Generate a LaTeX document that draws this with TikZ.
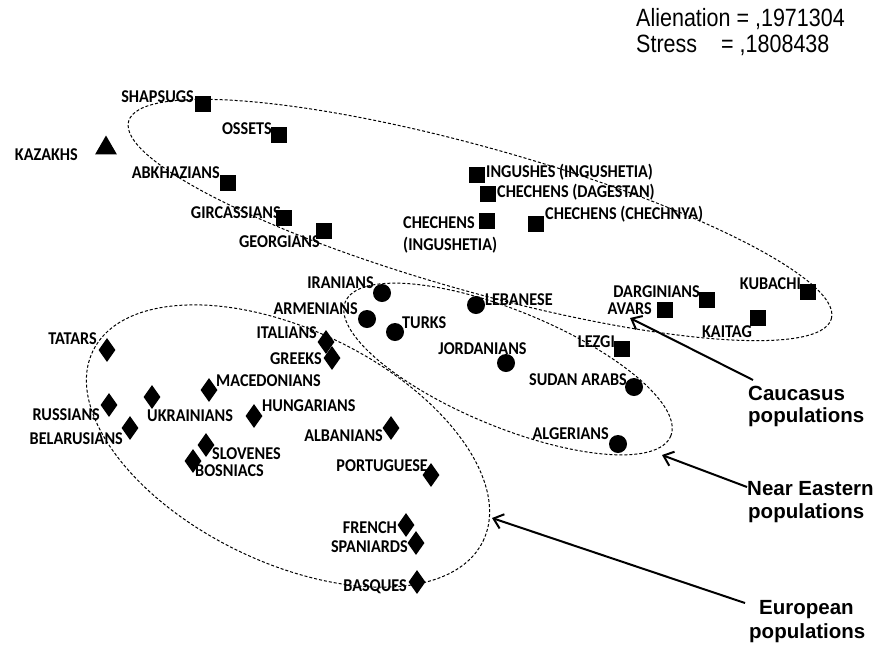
\documentclass[tikz,border=0pt]{standalone}
\usepackage{fontspec}
\setmainfont{Liberation Sans}
\newfontfamily\labfont[FakeStretch=0.9]{Carlito}
\newfontfamily\statfont[FakeStretch=0.86]{Liberation Sans}
\usetikzlibrary{shapes.geometric,arrows.meta}
\begin{document}
\begin{tikzpicture}[x=1pt,y=1pt,
  sqm/.style={rectangle, fill=black, minimum size=16pt, inner sep=0pt},
  cim/.style={circle, fill=black, minimum size=18pt, inner sep=0pt},
  dmm/.style={diamond, fill=black, minimum width=17pt, minimum height=24pt, inner sep=0pt},
  trm/.style={regular polygon, regular polygon sides=3, fill=black, minimum size=25pt, inner sep=0pt},
  lab/.style={font=\labfont\bfseries\fontsize{18}{22}\selectfont, inner sep=0pt, text height=11.6pt, text depth=0pt},
  lab2/.style={font=\labfont\bfseries\fontsize{18}{22}\selectfont, inner sep=0pt, align=left},
  big/.style={font=\bfseries\fontsize{20.5}{23}\selectfont, inner sep=0pt},
  stat/.style={font=\statfont\fontsize{25}{26}\selectfont, inner sep=0pt},
  ell/.style={draw=black, dash pattern=on 3pt off 2pt, line width=1pt},
  arr/.style={line width=2pt, -{Straight Barb[length=9pt,width=15pt]}}
]
\useasboundingbox (0,0) rectangle (880,-646);

% dashed ellipses
\draw[ell] (480,-220) ellipse [x radius=365, y radius=72, rotate=-15.7];
\draw[ell] (508,-369) ellipse [x radius=176, y radius=58, rotate=-22.4];
\draw[ell] (288,-446) ellipse [x radius=217, y radius=116, rotate=-26];

% statistics
\node[stat, anchor=base west] (alien) at (636,-26.5) {Alienation = ,1971304};
\node[stat, anchor=base west] (stress) at (636,-52) {Stress};
\node[stat, anchor=base west] (stressv) at (721,-52) {= ,1808438};

% Caucasus (squares) and Kazakhs
\node[trm] (kaz) at (106,-148) {};
\node[lab, anchor=east] (lkaz) at (78,-155) {KAZAKHS};
\node[sqm] (shap) at (203,-104) {};
\node[lab, anchor=east] (lshap) at (194,-97) {SHAPSUGS};
\node[sqm] (oss) at (279,-135) {};
\node[lab, anchor=east] (loss) at (272,-129) {OSSETS};
\node[sqm] (abk) at (228,-183) {};
\node[lab, anchor=east] (labk) at (220,-173) {ABKHAZIANS};
\node[sqm] (gir) at (284,-218) {};
\node[lab, anchor=east] (lgir) at (281,-213) {GIRCASSIANS};
\node[sqm] (geo) at (324,-231) {};
\node[lab, anchor=east] (lgeo) at (320,-242) {GEORGIANS};
\node[sqm] (ing) at (477,-175) {};
\node[lab, anchor=west] (ling) at (486,-172) {INGUSHES (INGUSHETIA)};
\node[sqm] (chd) at (488,-194) {};
\node[lab, anchor=west] (lchd) at (497,-192) {CHECHENS (DAGESTAN)};
\node[sqm] (chi) at (487,-221) {};
\node[lab2, anchor=north west] (lchi) at (403,-216) {CHECHENS\\(INGUSHETIA)};
\node[sqm] (chc) at (536,-224) {};
\node[lab, anchor=west] (lchc) at (545,-214) {CHECHENS (CHECHNYA)};
\node[sqm] (dar) at (707,-300) {};
\node[lab, anchor=east] (ldar) at (700,-292) {DARGINIANS};
\node[sqm] (ava) at (665,-310) {};
\node[lab, anchor=east] (lava) at (652,-309) {AVARS};
\node[sqm] (kub) at (808,-292) {};
\node[lab, anchor=east] (lkub) at (801,-284) {KUBACHI};
\node[sqm] (kai) at (758,-318) {};
\node[lab, anchor=east] (lkai) at (752,-332) {KAITAG};
\node[sqm] (lez) at (622,-349) {};
\node[lab, anchor=east] (llez) at (615,-342) {LEZGI};

% Near Eastern (circles)
\node[cim] (ira) at (382,-293) {};
\node[lab, anchor=east] (lira) at (374,-283) {IRANIANS};
\node[cim] (arm) at (367,-319) {};
\node[lab, anchor=east] (larm) at (358,-309) {ARMENIANS};
\node[cim] (tur) at (395,-332) {};
\node[lab, anchor=west] (ltur) at (402,-323) {TURKS};
\node[cim] (leb) at (476,-305) {};
\node[lab, anchor=west] (lleb) at (485,-300) {LEBANESE};
\node[cim] (jor) at (506,-363) {};
\node[lab] (ljor) at (482.5,-349) {JORDANIANS};
\node[cim] (sud) at (634,-387) {};
\node[lab, anchor=east] (lsud) at (627,-380) {SUDAN\ ARABS};
\node[cim] (alg) at (618,-444) {};
\node[lab, anchor=east] (lalg) at (609,-434) {ALGERIANS};

% European (diamonds)
\node[dmm] (tat) at (107,-350) {};
\node[lab, anchor=east] (ltat) at (97,-339) {TATARS};
\node[dmm] (rus) at (109,-405) {};
\node[lab, anchor=east] (lrus) at (100,-415) {RUSSIANS};
\node[dmm] (ukr) at (152,-397) {};
\node[lab, anchor=west] (lukr) at (147,-416) {UKRAINIANS};
\node[dmm] (bel) at (130,-428) {};
\node[lab, anchor=east] (lbel) at (123,-439) {BELARUSIANS};
\node[dmm] (mac) at (209,-390) {};
\node[lab, anchor=west] (lmac) at (216,-381) {MACEDONIANS};
\node[dmm] (hun) at (254,-416) {};
\node[lab, anchor=west] (lhun) at (262,-406) {HUNGARIANS};
\node[dmm] (slo) at (206,-445) {};
\node[lab, anchor=west] (lslo) at (212,-454) {SLOVENES};
\node[dmm] (bos) at (193,-461) {};
\node[lab, anchor=west] (lbos) at (195,-471) {BOSNIACS};
\node[dmm] (ita) at (326,-342) {};
\node[lab, anchor=east] (lita) at (317,-333) {ITALIANS};
\node[dmm] (gre) at (332,-358) {};
\node[lab, anchor=east] (lgre) at (322,-359) {GREEKS};
\node[dmm] (alb) at (391,-428) {};
\node[lab, anchor=east] (lalb) at (383,-436) {ALBANIANS};
\node[dmm] (por) at (431,-475) {};
\node[lab, anchor=east] (lpor) at (428,-466) {PORTUGUESE};
\node[dmm] (fre) at (406,-525) {};
\node[lab, anchor=east] (lfre) at (397,-528) {FRENCH};
\node[dmm] (spa) at (416,-543) {};
\node[lab, anchor=east] (lspa) at (408,-547) {SPANIARDS};
\node[dmm] (bas) at (417,-582) {};
\node[lab, anchor=east] (lbas) at (407,-586) {BASQUES};

% group labels
\node[big, anchor=base west] (cau1) at (748,-400) {Caucasus};
\node[big, anchor=base west] (cau2) at (748,-422) {populations};
\node[big, anchor=base west] (ne1) at (747,-495) {Near Eastern};
\node[big, anchor=base west] (ne2) at (748,-518) {populations};
\node[big, anchor=base west] (eu1) at (759,-614) {European};
\node[big, anchor=base west] (eu2) at (749,-638) {populations};

% arrows
\coordinate (cauT) at (753,-380);
\coordinate (cauH) at (630,-318);
\coordinate (neT) at (747,-487);
\coordinate (neH) at (662,-455);
\coordinate (euT) at (745,-603);
\coordinate (euH) at (492,-518);
\draw[arr] (cauT) -- (cauH);
\draw[arr] (neT) -- (neH);
\draw[arr] (euT) -- (euH);
\end{tikzpicture}
\end{document}
